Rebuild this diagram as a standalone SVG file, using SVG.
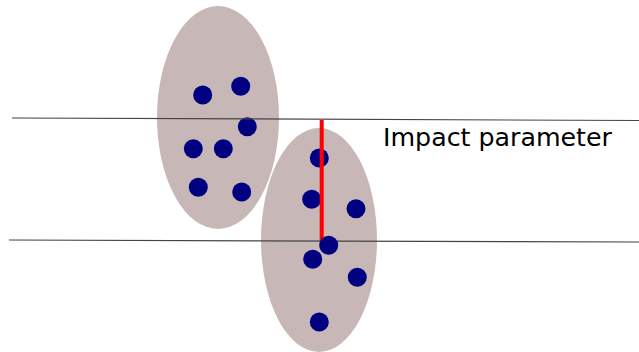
<svg xmlns="http://www.w3.org/2000/svg" width="639" height="352" viewBox="0 0 639 352">
<style>
.blob{fill:#c8b7b7;stroke:none}
.dot{fill:#000080}
.ln{stroke:#444;stroke-width:1.2;fill:none}
.lbl{font-family:"DejaVu Sans",sans-serif;font-size:25.3px;fill:#000}
</style>
<rect width="639" height="352" fill="#fff"/>
<g id="nucleus1">
<ellipse class="blob" cx="218" cy="117.5" rx="61" ry="111.5"/>
<circle class="dot" cx="202.7" cy="95" r="9.5"/>
<circle class="dot" cx="240.7" cy="86.3" r="9.5"/>
<circle class="dot" cx="247.3" cy="126.7" r="9.5"/>
<circle class="dot" cx="193.3" cy="148.7" r="9.5"/>
<circle class="dot" cx="223.3" cy="148.7" r="9.5"/>
<circle class="dot" cx="198.3" cy="187.3" r="9.5"/>
<circle class="dot" cx="241.7" cy="192" r="9.5"/>
</g>
<g id="nucleus2">
<ellipse class="blob" cx="319" cy="240" rx="58" ry="112"/>
<circle class="dot" cx="319.3" cy="158" r="9.5"/>
<circle class="dot" cx="311.7" cy="199.3" r="9.5"/>
<circle class="dot" cx="356" cy="208.7" r="9.5"/>
<circle class="dot" cx="312.7" cy="259.3" r="9.5"/>
<circle class="dot" cx="357.3" cy="277.3" r="9.5"/>
<circle class="dot" cx="319.3" cy="322" r="9.5"/>
</g>
<g id="connectors">
<line class="ln" x1="12" y1="118" x2="639" y2="120.5"/>
<line class="ln" x1="9" y1="240" x2="639" y2="242"/>
<line x1="321.7" y1="120" x2="321.7" y2="241" stroke="#ff0000" stroke-width="4"/>
</g>
<g id="nucleus2-dot">
<circle class="dot" cx="328.7" cy="245.3" r="9.5"/>
</g>
<g id="label">
<text class="lbl" x="383" y="146" textLength="229" lengthAdjust="spacingAndGlyphs">Impact parameter</text>
</g>
</svg>
